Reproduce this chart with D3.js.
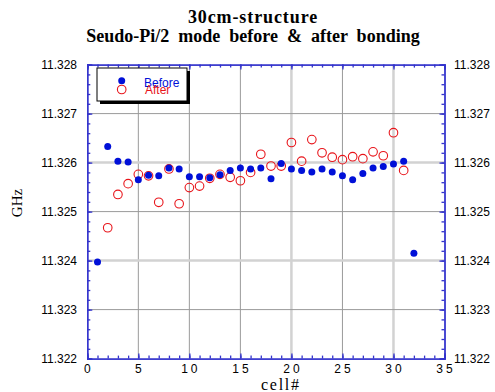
<!DOCTYPE html>
<html><head><meta charset="utf-8">
<script src="https://cdn.jsdelivr.net/npm/d3@7"></script>
<style>body{margin:0;background:#fff}svg{display:block}</style>
</head><body>
<svg id="c" width="495" height="392"></svg>
<script>
const cellsBefore = [1,2,3,4,5,6,7,8,9,10,11,12,13,14,15,16,17,18,19,20,21,22,23,24,25,26,27,28,29,30,31,32];
const before = [11.32397,11.32633,11.32603,11.32601,11.32565,11.32574,11.32573,11.32589,11.32587,11.32571,11.32571,11.32569,11.32575,11.32584,11.32589,11.32587,11.32589,11.32567,11.32598,11.32587,11.32584,11.32581,11.32587,11.32581,11.32573,11.32565,11.32578,11.32589,11.32592,11.32597,11.32603,11.32415];
const cellsAfter = [2,3,4,5,6,7,8,9,10,11,12,13,14,15,16,17,18,19,20,21,22,23,24,25,26,27,28,29,30,31];
const after = [11.32467,11.32535,11.32557,11.32576,11.32573,11.32519,11.32587,11.32516,11.32549,11.32552,11.32568,11.32576,11.3257,11.32563,11.3258,11.32617,11.32593,11.32593,11.32641,11.32603,11.32647,11.3262,11.32611,11.32606,11.32612,11.32608,11.32622,11.32614,11.32661,11.32584];
const xTicks = [0,5,10,15,20,25,30,35];
const yTicks = [11.322,11.323,11.324,11.325,11.326,11.327,11.328];
const titleLines = ["30cm-structure","Seudo-Pi/2 mode before & after bonding"];
const seriesNames = ["Before","After"];

const svg = d3.select("#c");
const L=87.3, R=444.5, T=64.6, B=358.6;
const x = d3.scaleLinear().domain([0,35]).range([L,R]);
const y = d3.scaleLinear().domain([11.322,11.328]).range([B,T]);
const axisCol = "#3333cc";
const blue = "#0010d8", red = "#e8141a";

// gridlines
const lightX = [20,30], lightY = [11.324,11.326];
xTicks.filter(v=>v>0&&v<35).forEach(v=>{
  const light = lightX.includes(v);
  svg.append("line").attr("x1",x(v)).attr("x2",x(v)).attr("y1",T).attr("y2",B)
    .attr("stroke",light?"#d2d2d2":"#9a9a9a").attr("stroke-width",light?2.5:1);
});
yTicks.filter(v=>v>11.322&&v<11.328).forEach(v=>{
  const light = lightY.some(a=>Math.abs(a-v)<1e-7);
  svg.append("line").attr("x1",L).attr("x2",R).attr("y1",y(v)).attr("y2",y(v))
    .attr("stroke",light?"#d2d2d2":"#9a9a9a").attr("stroke-width",light?2.5:1);
});

// axes (ticks inward)
const fmt = d3.format(".3f");
const yMinor = d3.range(0,31).map(i=>11.322+i*0.0002);
const groups = [
  svg.append("g").attr("transform",`translate(${L},0)`).call(d3.axisRight(y).tickValues(yTicks).tickSize(5).tickFormat("")),
  svg.append("g").attr("transform",`translate(${L},0)`).call(d3.axisRight(y).tickValues(yMinor).tickSize(3).tickFormat("")),
  svg.append("g").attr("transform",`translate(${R},0)`).call(d3.axisLeft(y).tickValues(yTicks).tickSize(5).tickFormat("")),
  svg.append("g").attr("transform",`translate(${R},0)`).call(d3.axisLeft(y).tickValues(yMinor).tickSize(3).tickFormat("")),
  svg.append("g").attr("transform",`translate(0,${B})`).call(d3.axisTop(x).tickValues(xTicks).tickSize(5).tickFormat("")),
  svg.append("g").attr("transform",`translate(0,${B})`).call(d3.axisTop(x).tickValues(d3.range(0,36)).tickSize(3).tickFormat("")),
  svg.append("g").attr("transform",`translate(0,${T})`).call(d3.axisBottom(x).tickValues(xTicks).tickSize(5).tickFormat("")),
  svg.append("g").attr("transform",`translate(0,${T})`).call(d3.axisBottom(x).tickValues(d3.range(0,36)).tickSize(3).tickFormat(""))
];
groups.forEach(g=>{
  g.selectAll("path,line").attr("stroke",axisCol).attr("stroke-width",1.3);
});

// tick labels
yTicks.forEach(v=>{
  svg.append("text").attr("x",77).attr("y",y(v)+4).attr("text-anchor","end")
    .attr("font-family","Liberation Sans, Arial, sans-serif").attr("font-size",12).text(fmt(v));
  svg.append("text").attr("x",454).attr("y",y(v)+4).attr("text-anchor","start")
    .attr("font-family","Liberation Sans, Arial, sans-serif").attr("font-size",12).text(fmt(v));
});
xTicks.forEach(v=>{
  svg.append("text").attr("x",x(v)+(v>=10?1.5:0)).attr("y",373).attr("text-anchor","middle")
    .attr("font-family","Liberation Sans, Arial, sans-serif").attr("font-size",12)
    .attr("letter-spacing", v>=10?"3px":"0px").text(String(v));
});

// titles
const titleSpacing = [[0.9,0],[0,4.5]];
titleLines.forEach((t,i)=>{
  svg.append("text").attr("x",253).attr("y",22.5+i*19).attr("text-anchor","middle")
    .attr("font-family","Liberation Serif, Times New Roman, serif").attr("font-weight","bold")
    .attr("font-size",18).attr("letter-spacing",titleSpacing[i][0]+"px")
    .attr("word-spacing",titleSpacing[i][1]+"px").text(t);
});
svg.append("text").attr("x",261).attr("y",390).attr("text-anchor","start")
  .attr("font-family","Liberation Serif, Times New Roman, serif").attr("font-size",16)
  .attr("textLength",38).attr("lengthAdjust","spacing").text("cell#");
svg.append("text").attr("transform","translate(22,203) rotate(-90)").attr("text-anchor","middle")
  .attr("font-family","Liberation Serif, Times New Roman, serif").attr("font-size",15).text("GHz");

// data
const plot = svg.append("g");
plot.selectAll("circle.after").data(cellsAfter.map((c,i)=>[c,after[i]])).join("circle")
  .attr("class","after").attr("cx",d=>x(d[0])).attr("cy",d=>y(d[1])).attr("r",4.3)
  .attr("fill","none").attr("stroke",red).attr("stroke-width",1.1);
plot.selectAll("circle.before").data(cellsBefore.map((c,i)=>[c,before[i]])).join("circle")
  .attr("class","before").attr("cx",d=>x(d[0])).attr("cy",d=>y(d[1])).attr("r",3.5)
  .attr("fill",blue);

// legend
const lg = svg.append("g");
lg.append("rect").attr("x",100).attr("y",71).attr("width",90).attr("height",33).attr("fill","#000");
lg.append("rect").attr("x",97).attr("y",68).attr("width",90).attr("height",33).attr("fill","#fff")
  .attr("stroke","#000").attr("stroke-width",1);
lg.append("circle").attr("cx",121.7).attr("cy",80.7).attr("r",3.5).attr("fill",blue);
lg.append("circle").attr("cx",121.7).attr("cy",89.5).attr("r",4.3).attr("fill","none").attr("stroke",red).attr("stroke-width",1.1);
lg.append("text").attr("x",144).attr("y",86.5).attr("fill",blue)
  .attr("font-family","Liberation Sans, Arial, sans-serif").attr("font-size",12).text(seriesNames[0]);
lg.append("text").attr("x",145).attr("y",93.5).attr("fill",red)
  .attr("font-family","Liberation Sans, Arial, sans-serif").attr("font-size",12).text(seriesNames[1]);
</script>
</body></html>
